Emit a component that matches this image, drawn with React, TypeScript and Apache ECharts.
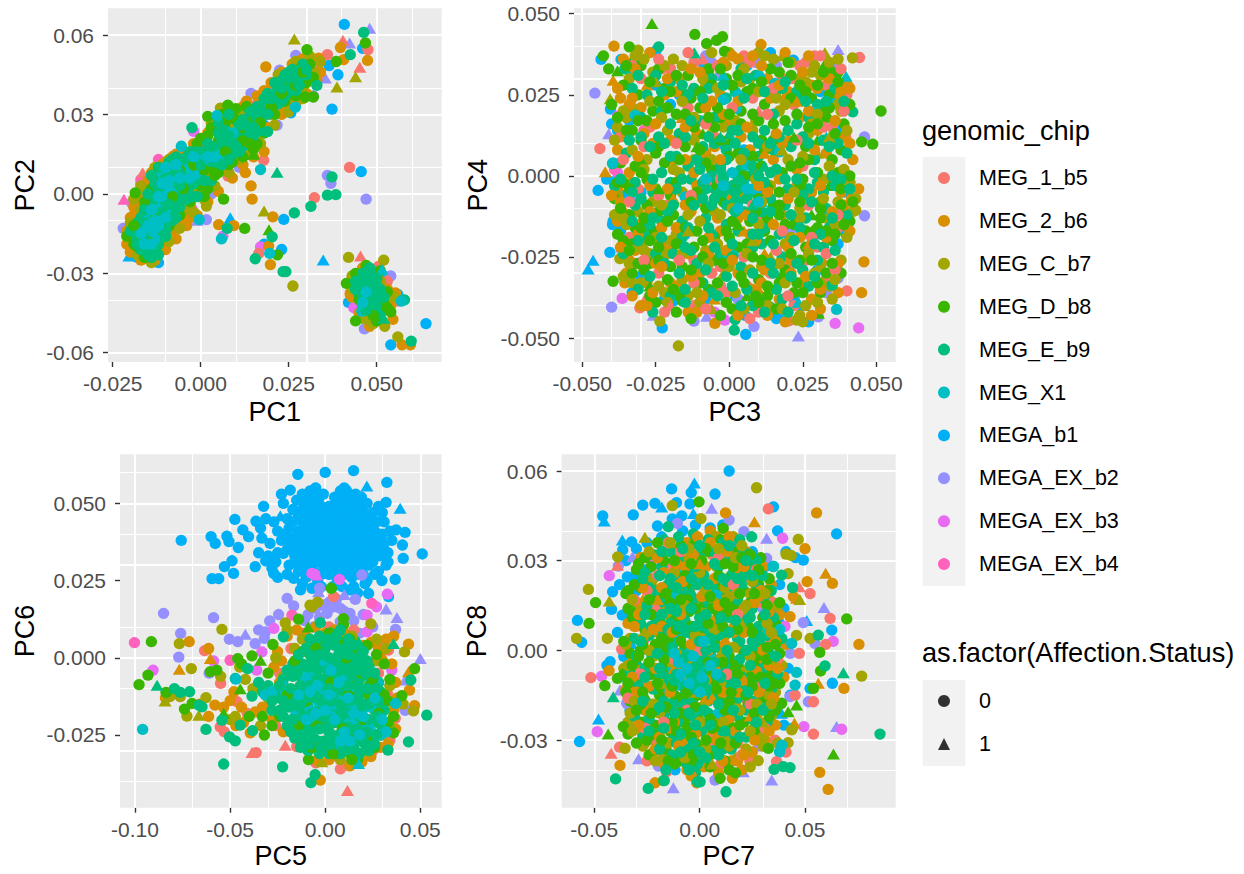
import React, { useEffect, useRef } from "react";
import * as echarts from "echarts";

const FONT = "Liberation Sans";
const CHIPS = ["MEG_1_b5", "MEG_2_b6", "MEG_C_b7", "MEG_D_b8", "MEG_E_b9", "MEG_X1", "MEGA_b1", "MEGA_EX_b2", "MEGA_EX_b3", "MEGA_EX_b4"];
const COLORS = ["#F8766D", "#D89000", "#A3A500", "#39B600", "#00BF7D", "#00BFC4", "#00B0F6", "#9590FF", "#E76BF3", "#FF62BC"];
const STATUS = ["0", "1"];

// All points are [x*1000, y*1000, triangle?].
// PC1 / PC2
const p1b1 = [[40.8,64],[46,55],[36.5,48.5],[39,45],[37.3,32],[25.6,30.6],[45.6,8.4],[23.6,-9.6],[23,-21],[18,-19],[64,-49],[54,-57],[42,-41],[34.8,-25,1],[8.4,-9,1],[-12,-26],[-20.4,-23.5,1],[-13.4,-23,1],[-10.7,-18.7],[-8.6,-14.7],[18,26],[-18,-24],[-15,-24.5],[-5,-10],[2,9],[8,8],[30,44],[-20,-18],[52,-31],[45,-32],[56,-38]];
const p1b2 = [[48,62.6,1],[27,52.3],[42.3,57,1],[22.4,46.7],[14.3,38],[21.7,26],[35.4,43.8,1],[36,7],[37,4],[47,-2],[1.6,-9.7],[-1,-10,1],[54,-31],[46.5,-51],[-22,-13],[-19.6,-3.4],[-6.7,15],[14,25.5],[11,10],[-15,-24],[32,37],[-3,-3],[3,0]];
const p1b3 = [[6.3,-16],[17,-20],[-2.5,-5.7],[-2,23.6],[12.7,34],[43.5,-43],[-17,4]];
const p1b4 = [[-21.8,-2,1],[-17,5.4],[-12,13],[-15,-20]];
const p1b5 = [[47.5,54.5],[40.4,58,1],[45.2,47.8,1],[36,52.6],[34,46],[17.9,12.7],[7.8,6.7],[42.3,10],[32.3,-1.4],[-4.2,-11],[16.5,-22.5],[45.4,-23.5,1],[50.6,-27.3],[54.8,-40.5,1],[-16.5,8,1],[-8.6,14.2,1],[4.6,26,1],[42.5,-37.4],[-18,-10],[-16,-2],[-14,3],[-9,9],[-4,13],[1,17],[6,22],[11,28],[16,34],[21,40],[26,46],[30,50],[-19,-17],[-11,-17],[-7,-7],[-2,2],[3,8],[28,50],[33,48],[47,-30],[50,-46],[53,-33]];
const p1b6 = [[18.5,48],[47.4,50.4],[39.7,55.3],[40.6,50.7],[33.5,51.3],[12.7,8],[14.3,3],[14.6,-2],[20.5,-8.7],[5.1,-11.6],[9.4,-12],[19.3,-19.7],[19.8,-26.7],[55.3,-37.4],[57.2,-57],[59.6,-57],[42.5,-38],[54.6,-47.4],[7.5,9.2,1],[-20,-13],[-19,-8],[-18,-4],[-17,0],[-15,5],[-13,9],[-10,12],[-7,15],[-20,-17],[-19,-21],[-17,-24],[-14,-22],[-11,-18],[-8,-14],[-5,-9],[-3,-5],[0,0],[3,4],[7,10],[10,15],[13,18],[16,21],[4,25],[8,29],[12,33],[16,37],[20,42],[23,46],[26,49],[29,51],[31,48],[33,43],[28,38],[24,33],[20,30],[15,27],[44,-32],[43,-39],[45,-45],[48,-50],[51,-47],[54,-42],[53,-36],[50,-30],[46,-28]];
const p1b7 = [[26.6,58.5,1],[44,44.2,1],[38.7,40.4,1],[34,50],[26.2,-34.8],[42,-24],[52,-25],[56,-54],[52.3,-50],[18,-6.5,1],[1.6,-4.6],[5.6,32.4],[17,24.5],[8.4,11.7],[11.3,14.2,1],[43,-31],[48.2,-48],[-19,-11],[-17,-6],[-15,1],[-11,7],[-8,11],[-16,-21],[-12,-20],[-8,-12],[-4,-6],[-1,0],[2,6],[5,13],[9,19],[13,24],[17,28],[21,33],[25,37],[29,40],[32,46],[22,45],[27,50],[31,52],[12,30],[6,32],[8,26],[45,-30],[43,-36],[46,-47],[49,-49],[52,-44],[55,-39],[51,-33],[47,-35]];
const p1b8 = [[30.2,54.5],[46.8,57],[38.5,50],[2,29.3],[7.7,33.5],[10,32.2],[6.5,-2],[12.5,-13],[1,-1],[19.4,-13.5,1],[21.8,-23],[44,-48],[15,15,1],[-18.6,0.4],[32,36.6],[29.7,36.6],[54,-44.6],[41.4,-33.8],[-20,-15],[-18,-20],[-16,-24],[-14,-20],[-17,-12],[-15,-7],[-13,-1],[-11,4],[-9,9],[-6,12],[-3,15],[-12,-15],[-9,-12],[-6,-8],[-3,-3],[0,3],[3,10],[6,14],[9,20],[11,24],[13,22],[15,17],[16,19],[14,28],[18,32],[10,28],[6,30],[3,25],[0,21],[22,36],[24,40],[27,44],[30,42],[32,44],[26,38],[28,47],[31,49],[25,42],[44,-30],[46,-37],[48,-43],[50,-48],[52,-41],[50,-35],[51,-29],[47,-27],[53,-37]];
const p1b9 = [[46.3,61],[42.5,52.6],[-2.5,25],[19,23.5],[21.7,8.2,1],[37.3,6.4],[36,-0.5],[38.4,-0.3],[31.3,-4.7],[26.6,-7.2],[7.5,-13],[20.3,-16.2],[15.5,-24.5],[23.4,-29.4],[24.2,-29.4],[57.9,-40],[59.8,-55.6],[-19,-14],[-18,-17],[-17,-21],[-15,-23],[-13,-21],[-12,-17],[-15,-14],[-17,-9],[-15,-4],[-13,1],[-11,-3],[-9,-7],[-10,-12],[-7,-3],[-10,3],[-12,6],[-9,7],[-7,10],[-5,5],[-3,9],[-4,14],[-1,13],[1,16],[-2,7],[2,12],[5,17],[4,12],[7,18],[9,15],[10,22],[7,24],[5,27],[12,18],[13,21],[11,26],[8,30],[15,22],[16,33],[19,34],[22,34],[21,38],[24,37],[26,41],[23,43],[25,46],[28,44],[29,49],[27,39],[30,45],[33,41],[-14,-11],[-11,-9],[-7,-1],[-8,4],[-5,0],[-3,3],[0,9],[-14,-17],[-11,-13],[44,-33],[46,-30],[48,-33],[50,-38],[47,-40],[45,-38],[49,-44],[52,-39],[48,-28],[51,-45],[46,-43],[52,-47,1]];
const p1x1 = [[5.9,-17],[-0.4,-9.7],[17,9.2],[26.9,32.8],[19.6,-22.5],[19.3,35],[51.5,-28.6,1],[46.3,-33.6,1],[45.8,-44.3],[50.4,-35.5],[57,-40.5],[-5.5,18],[4.6,29.6],[-16,-13],[-14,-8],[-13,-13],[-12,-5,1],[-14,-15,1],[-11,-1],[-10,2],[-11,8],[-13,-17],[-15,-10],[-10,-6],[-9,-2],[-7,7],[-4,9],[-1,10],[-1,7],[-5,11],[1,13],[6,15],[-8,1],[9,23],[-12,-9],[-13,-6]];
const p1o3 = [[-21,-14],[-20,-9],[-19,-5],[-18,0],[-16,3],[-14,8],[-11,11],[-8,14],[-5,16],[-21,-19],[-20,-22],[-17,-25],[-13,-25],[-10,-21],[-7,-17],[-4,-12],[-1,-8],[2,-3],[5,1],[9,6],[12,11],[15,14],[18,16],[-2,19],[2,23],[5,29],[9,31],[13,35],[18,39],[22,43],[19,25],[23,30],[27,34],[30,38],[34,46],[-16,-14],[-7,-11],[-3,-9]];
const p1c3 = [[-20,-11],[-19,-2],[-17,3],[-13,10],[-9,13],[-18,-23],[-14,-26],[-9,-18],[-6,-13],[-2,-7],[1,-2],[4,3],[8,8],[11,13],[14,15],[17,19],[21,26],[25,31],[29,36],[3,27],[7,27],[11,31],[15,32],[19,36],[24,44],[28,49]];
const p1d3 = [[-21,-16],[-19,-19],[-15,-21],[-16,-8],[-14,-3],[-12,-7],[-9,0],[-7,5],[-4,11],[-1,4],[2,2],[5,8],[9,12],[12,14],[15,24],[18,23],[21,30],[24,35],[5,20],[7,27],[2,22],[-1,19],[9,30],[13,33],[27,37],[31,44]];
const p1e3 = [[-20,-14],[-18,-11],[-16,-20],[-14,-13],[-12,-19],[-10,-14],[-8,-6],[-6,-1],[-4,2],[-2,-1],[0,6],[3,5],[-13,-3],[-11,1],[-9,12],[-7,14],[-3,12],[0,14],[3,18],[5,23],[8,19],[11,21],[14,24],[17,24],[16,29],[19,38],[22,40],[25,39],[28,46],[23,35]];
const p1d2 = [[-19,-12],[-17,-16],[-15,-18],[-13,-9],[-16,-3],[-14,2],[-8,-1],[-5,2],[-6,9],[-2,11],[1,9],[4,7],[7,16],[8,11],[12,20],[14,19],[17,27],[20,33],[23,38],[27,41],[29,46],[45,-40],[49,-46],[53,-43]];
const p1e2 = [[-18,-19],[-16,-17],[-14,-24],[-12,-23],[-16,-11],[-14,-6],[-12,-11],[-10,-16],[-8,-10],[-16,-6],[-15,0],[-13,4],[-11,-7],[-9,-4],[-7,-9],[-6,-5],[-12,2],[-10,6],[-8,8],[-6,3],[-4,-2],[-4,6],[-2,4],[-1,-1],[1,5],[-14,7],[-12,10],[-10,10],[-8,13],[-6,8],[-5,13],[-3,16],[-1,16],[2,19],[0,11],[3,15],[6,11],[8,13],[11,16],[6,20],[8,22],[10,18],[13,26],[15,25],[17,31],[12,28],[14,31],[19,30],[20,36],[18,36],[23,40],[21,42],[26,44],[28,41],[26,47],[30,47],[24,45],[47,-33],[49,-35],[46,-39],[48,-38],[49,-41],[44,-36],[47,-44],[50,-42],[51,-36],[46,-34],[48,-30],[50,-32]];
const p1x2 = [[-17,-15],[-15,-12],[-14,-6],[-12,-1],[-10,-9],[-13,-10],[-12,-12],[-9,5],[-6,6],[-3,6],[-10,10],[-11,4],[-14,-19],[-7,11],[-16,-19],[-2,14],[2,14],[4,14],[47,-37],[46,-41]];

// PC3 / PC4
const p2b1 = [[-43.6,35.9],[-36.8,35.9],[-25,38.5],[-40.4,20.6],[-44.6,-4.5],[-41.7,-1],[-39.5,-14],[-39.7,-15],[-40.6,-23.6],[-46.3,-26,1],[-48,-28.7,1],[-22.8,-46.9],[5.6,-48.9],[21.8,35.7],[39.7,-17.8],[4.8,-41],[5.4,-43],[17.2,-43],[-19,-38.6],[25.2,-40,1],[27,-45],[-33,33],[-25,28],[-17,25],[-9,35],[6,34],[14,38],[-38,-1],[-30,-5],[-37,-17],[-30,-31],[-22,-38],[-13,-43],[-8,-38],[2,-37],[12,-38],[22,-38],[30,-29],[37,-21],[39,-5],[38,14],[31,26],[-20,22],[-10,4],[5,8],[-15,-18],[10,-5],[20,-18],[-3,10],[-34,17],[-36,-6],[-40,16],[-38,14],[-33,-36],[15,-42],[16,-44]];
const p2b2 = [[-45.7,25.5],[-40,-40.5],[-36.6,-21.9,1],[46,-12.3],[46,12],[37,39,1],[23.5,-49.4,1],[8.4,-46.4],[-12,-44.8],[-7.7,-43.3,1],[-25.9,-43,1],[36,34.8],[3,-38],[30.3,-43.5],[37,-31.5],[23,-16,1],[-29,-20],[-6,35],[-3,31],[9,35],[16,34],[25,-18],[-33,-8],[-41,13,1],[-36,-1,1],[-8,37],[33,-36],[20,-17]];
const p2b3 = [[44,-46.9],[36,-45.5],[-36.4,-37.8],[-38,18.4],[-1.5,-44.5],[-38,1],[-5,-42]];
const p2b4 = [[-39,2],[-29,14],[16,12]];
const p2b5 = [[44.3,36.5],[39.6,12],[-44,8.4],[40,-35.5],[20.3,-44.7],[-30.4,-40.7],[-30,30],[-20,33],[-12,35],[5,37],[18,30],[26,35],[33,28],[40,25],[-37,12],[-27,15],[-14,21],[-5,12],[8,24],[22,22],[35,15],[-31,-4],[-21,-9],[-7,-2],[10,-12],[25,3],[37,-16],[-32,-27],[-24,-30],[-12,-26],[-3,-28],[6,-34],[14,-30],[26,-26],[33,-32],[-22,-42],[-12,-40],[-1,-36],[10,-42],[20,-28],[30,-22],[-34,-19],[-16,-33,1],[-9,36,1],[2,-22,1],[-28,-37,1],[29,37],[22,-40],[35,31],[-3,-34],[21,30,1],[-28,-31,1],[39,28],[-23,33],[4,-29]];
const p2b6 = [[-39.2,40],[10.8,40.5],[45.8,-26.5],[45,-36],[41.6,-7],[-4.9,-45.5],[-30,-40],[-35.5,-33],[40.5,27.6],[-42.2,1.3,1],[-39.5,29.5,1],[-37,24],[-30,21],[-22,25],[-17,30],[-11,13],[-3,25],[13,30],[20,26],[28,28],[36,24],[-38,8],[-33,-2],[-26,10],[-19,5],[-8,7],[4,12],[15,5],[24,18],[33,7],[41,-2],[-38,-14],[-30,-15],[-22,-20],[-13,-11],[-3,-17],[7,-18],[18,-12],[28,-5],[38,-5],[44,-4],[-34,-26],[-20,-22,1],[-28,-33],[-10,-30],[-5,-38,1],[3,-30],[12,-24,1],[24,-33],[32,-26,1],[37,-36],[-18,-34],[-7,32],[20,12,1],[22,-3,1],[-28,28,1],[-16,18,1],[9,2,1],[-25,-12],[3,36],[39,12],[-36,-10,1],[10,-35,1],[-14,-42],[17,-38],[28,-38],[0,16],[30,14],[-10,-8],[-35,-30],[-22,-23],[19,25,1],[8,-38,1],[-38,-4],[-35,12]];
const p2b7 = [[-17.3,-52.4],[32.5,38,1],[41.9,36.4],[-40.5,23.8,1],[-31,38.8],[-23.6,-44.8],[43,-10.6],[22.9,-44.5],[25,-45],[-37.2,-25.5],[-34,30],[-26,32],[-16,34],[-8,28],[0,38],[7,30],[15,36],[24,30],[31,31],[38,20],[-35,18],[-28,5],[-21,14],[-12,5],[-2,15],[9,17],[17,20],[27,13],[35,-1],[42,-11],[-31,-11],[-25,-4],[-16,-5],[-5,-11],[5,-6],[14,-3],[24,-10],[33,-13],[-27,-24],[-18,-18],[-8,-23],[2,-36],[11,-28],[19,-21],[29,-30],[38,-26],[-33,-33],[-22,-36],[-14,-37],[-6,-41,1],[14,-25,1],[24,-43],[-38,-6],[3,1],[-13,27,1],[18,37,1],[30,7,1],[-30,-20,1],[10,38],[37,-8],[-2,-30,1],[-33,21],[-30,-33],[31,-33],[34,-34],[-36,-31],[-12,-33,1],[-21,-24],[16,-27,1],[-5,-35,1]];
const p2b8 = [[51.6,20],[48.8,9.8],[45,10.5],[-11.7,43.6],[-2.3,42.9],[-4.3,41.8],[-7.7,40.8],[-34,39.8],[-42.8,37],[-39.5,-32.5],[-26.3,47,1],[-38,32.4,1],[-1.6,38.4],[30.3,-42.4,1],[-15.9,-38.6],[32.5,34.6,1],[-36,28],[-31,25],[-24,33],[-22,27],[-14,31],[-7,33],[-1,30],[6,26],[14,33],[21,31],[28,24],[34,25],[39,16],[-37,4],[-33,14],[-26,20],[-18,19],[-10,21],[-3,18],[4,20],[12,22],[19,17],[26,9],[33,18],[38,8],[-39,-7],[-34,-12],[-28,-1],[-22,4],[-15,9],[-6,2],[3,7],[11,11],[18,1],[25,-1],[31,-8],[37,1],[41,-14],[-36,-20],[-26,-17],[-19,-12],[-11,-17],[-2,-8],[7,-14],[15,-9],[22,-15],[29,-17],[35,-20],[-33,-30],[-27,-27],[-20,-28],[-12,-22],[-5,-26],[3,-22],[10,-32],[17,-33],[24,-26],[31,-36],[-25,-39],[-17,-37],[-7,-35],[1,-41],[13,-37],[22,-36],[-30,5,1],[-9,13,1],[0,11,1],[13,-2,1],[28,-12,1],[-17,-20,1],[6,-37,1],[18,-30,1],[34,-3,1],[-32,-16],[-24,-11],[-15,25],[-33,-21],[-30,11],[-5,-19],[12,-17],[30,11,1],[37,10,1],[39,-12],[-27,-34,1],[32,20],[35,33,1]];
const p2b9 = [[-24,39.8],[1.7,-47.6],[-32.3,35.4],[-35.5,33],[-39.7,3.8],[42,19.7],[-11.9,38,1],[35,-33.7],[13.8,-40.4],[2,-44.3],[-26,-42],[-33,27],[-28,25],[-20,29],[-12,27],[-6,30],[2,26],[9,31],[16,26],[23,26],[30,22],[36,27],[-35,7],[-30,18],[-24,12],[-17,13],[-9,9],[-1,8],[6,4],[12,14],[21,9],[29,5],[37,10],[-39,-3],[-32,-9],[-26,-5],[-20,-2],[-13,-1],[-5,-4],[1,-3],[7,0],[14,-7],[20,-4],[27,-4],[33,-10],[40,-12],[-36,-24],[-29,-18],[-23,-14],[-16,-14],[-8,-13],[-1,-15],[5,-11],[12,-16],[19,-9],[26,-13],[34,-16],[-31,-35],[-25,-24],[-19,-24],[-11,-27],[-3,-24],[4,-28],[11,-21],[18,-25],[25,-29],[32,-22],[-20,-37],[-9,-33],[-1,-31],[8,-40],[16,-35],[27,-34],[2,10],[0,-6],[10,6],[-14,3],[-1,24],[4,33],[-10,17],[7,-5,1],[0,13,1],[-4,-2],[3,-8],[-8,-4],[-18,6],[15,8],[23,16],[30,-2],[36,-3],[-3,2],[4,2],[-16,-19],[-5,18],[15,19],[27,18],[-23,20],[-32,-2]];
const p2x1 = [[36.5,-41.2],[39.7,30.7,1],[33,12,1],[-0.3,-26],[1.4,-24.5],[8,-4],[4.8,-1.9],[-2,23.5],[2.5,20.8],[15.5,28.5],[28.3,19.7],[35.4,22.3],[-15,-6.5],[-32,18.7],[5.9,3.3],[17.2,7.4],[10.4,32,1],[-2,31,1],[11,-8,1],[-39.5,4],[3,25],[23.5,-39,1]];
const p2o3 = [[-36,36],[-27,38],[-13,33],[1,37],[19,38],[27,37],[-33,24],[-18,26],[-8,21],[3,23],[14,24],[30,27],[38,26],[-29,13],[-20,11],[-5,9],[7,8],[18,10],[29,8],[41,10],[-37,-8],[-27,-3],[-11,-3],[1,-7],[13,-5],[26,-7],[39,-9],[-31,-18],[-18,-16],[-4,-13],[9,-20],[20,-22],[33,-19],[41,-17],[-25,-27],[-14,-24],[-1,-23],[12,-29],[26,-31],[37,-27],[-28,-40],[-11,-42],[3,-43],[19,-45],[31,-41],[-33,-37],[-2,19],[11,34],[23,2],[-23,-16],[34,21],[-34,1],[17,-1],[6,-12],[-15,5],[-7,-24],[21,-26],[-20,-33],[8,-35]];
const p2c3 = [[-32,37],[-22,34],[-9,30],[4,29],[13,26],[26,29],[34,35],[-38,15],[-23,18],[-12,11],[2,17],[16,24],[28,16],[37,22],[-33,8],[-19,2],[-6,5],[9,-1],[20,5],[32,-1],[39,2],[-36,-13],[-26,-8],[-14,-12],[-3,-12],[10,-15],[24,-13],[36,-15],[-29,-23],[-16,-24],[-4,-21],[7,-29],[21,-19],[31,-28],[-21,-39],[-10,-39],[0,-28],[13,-40],[26,-40],[35,-38],[-34,-27],[-12,18],[8,14],[-25,-19],[19,-33],[-1,34],[41,-2],[-39,-12],[28,32],[-16,-32]];
const p2d3 = [[-41,33],[-30,34],[-20,26],[-13,24],[-6,28],[1,28],[8,27],[17,32],[24,28],[30,28],[37,32],[-40,22],[-35,14],[-28,17],[-21,21],[-12,15],[-4,21],[4,16],[10,17],[21,24],[27,15],[34,21],[41,22],[-38,-2],[-32,3],[-24,9],[-16,11],[-8,4],[0,6],[8,6],[15,11],[21,3],[27,5],[35,5],[41,0],[-34,-4],[-28,-9],[-20,-6],[-11,-5],[-4,-3],[3,-4],[10,-7],[17,-9],[24,-3],[31,-10],[38,-9],[-38,-18],[-30,-16],[-24,-22],[-15,-16],[-8,-10],[-1,-17],[6,-21],[13,-13],[19,-15],[26,-17],[33,-17],[39,-15],[-31,-27],[-24,-26],[-16,-28],[-9,-25],[-2,-27],[4,-31],[11,-26],[19,-29],[26,-22],[33,-30],[38,-30],[-27,-37],[-19,-35],[-10,-33],[-1,-39],[9,-37],[16,-41],[25,-36],[-13,-44],[12,8],[-5,15],[-18,-2],[30,-16]];
const p2e3 = [[-25,31],[-14,25],[-7,27],[5,24],[18,27],[25,24],[-30,12],[-22,10],[-15,12],[-5,10],[3,14],[10,10],[17,12],[25,12],[32,11],[-33,-5],[-26,-1],[-18,-4],[-9,-2],[-3,-5],[6,-7],[12,-2],[19,-1],[25,-6],[32,-5],[38,-1],[-27,-15],[-21,-11],[-14,-16],[-6,-18],[3,-17],[10,-18],[17,-18],[24,-16],[31,-18],[-22,-27],[-13,-23],[-5,-22],[1,-25],[8,-22],[15,-30],[23,-27],[30,-26],[-15,-35],[-6,-36],[6,-35],[18,-38],[-3,3],[-11,5],[5,7],[11,-11],[-1,-9],[-6,0],[8,3],[-1,5],[2,-8],[-9,-7],[14,1]];
const p2s2 = [[-33,34],[-24,36],[-14,38],[-4,34],[7,35],[15,27],[24,34],[31,37],[38,33],[-36,5],[-29,9],[-18,10],[-8,16],[1,21],[13,19],[23,11],[32,15],[39,20],[-34,-8],[-24,-6],[-13,-6],[-3,-1],[8,-9],[18,-17],[27,-9],[37,-12],[-29,-26],[-17,-26],[-6,-30],[5,-25],[16,-23],[28,-19],[36,-29],[-20,-40,1],[-8,-41],[7,-44],[20,-37],[33,-24],[10,20,1],[-12,-33]];
const p2o2 = [[-38,27],[-32,33],[-21,30],[-10,32],[-2,35],[8,37],[17,28],[25,32],[34,30],[41,27],[-34,22],[-25,16],[-15,15],[-6,23],[6,15],[16,13],[27,20],[36,17],[-40,-6],[-31,6],[-21,-4],[-12,1],[-3,5],[10,-3],[20,-7],[31,-3],[42,5],[-37,-22],[-27,-11],[-15,-9],[-7,-19],[3,-13],[15,-15],[24,-19],[35,-11],[-32,-23],[-23,-28],[-13,-31],[1,-26],[11,-33],[21,-30],[31,-35],[-26,-36],[-9,-37],[13,-43],[28,-43],[-7,13,1],[12,7,1],[-19,-7,1],[27,-21,1],[5,-17,1],[23,23,1]];
const p2c2 = [[-29,36],[-19,36],[-6,38],[5,33],[12,37],[21,35],[29,34],[37,36],[-36,20],[-27,23],[-16,23],[-4,27],[10,26],[19,22],[30,19],[40,14],[-39,11],[-29,2],[-17,1],[-8,-1],[4,5],[13,9],[25,6],[34,3],[43,-7],[-35,-15],[-23,-9],[-10,-14],[1,-10],[11,-8],[22,-5],[32,-7],[40,-19],[-31,-22],[-20,-20],[-7,-27],[6,-24],[17,-27],[27,-24],[36,-32],[-24,-34],[-11,-36],[5,-41],[18,-41],[30,-39],[-25,29,1],[8,-20,1],[18,8,1],[-14,-17,1],[34,12,1]];
const p2d2 = [[-35,34],[-27,29],[-18,31],[-10,26],[-3,33],[3,31],[11,29],[20,35],[26,26],[32,32],[37,29],[-38,18],[-31,17],[-24,23],[-15,19],[-7,18],[0,19],[8,19],[15,16],[23,19],[30,16],[36,13],[-36,-2],[-30,1],[-25,7],[-17,5],[-10,8],[-3,11],[5,0],[11,3],[17,-5],[24,4],[30,1],[38,-4],[42,-8],[-37,-10],[-29,-13],[-21,-14],[-13,-8],[-5,-7],[1,-14],[9,-11],[17,-12],[24,-8],[31,-13],[36,-18],[-34,-23],[-27,-20],[-18,-21],[-9,-20],[0,-19],[8,-25],[14,-20],[21,-24],[28,-26],[35,-27],[-29,-29],[-21,-32],[-13,-29],[-4,-33],[5,-33],[13,-34],[23,-33],[30,-33],[-18,-42],[-3,-43],[10,-39],[-11,9,1],[3,-15,1],[22,12,1],[-24,-4,1]];
const p2e2 = [[-31,31],[-23,26],[-16,28],[-9,24],[-2,28],[6,30],[12,26],[19,29],[26,23],[33,23],[39,23],[-34,11],[-27,9],[-20,16],[-13,17],[-7,12],[1,14],[8,12],[14,10],[20,14],[27,10],[34,9],[40,7],[-37,-1],[-30,-7],[-23,1],[-16,-1],[-10,2],[-2,-1],[4,-2],[10,0],[16,2],[23,-1],[29,1],[35,0],[41,-4],[-33,-14],[-26,-13],[-19,-9],[-12,-9],[-6,-9],[2,-11],[8,-13],[14,-11],[21,-12],[28,-8],[35,-13],[-31,-20],[-23,-19],[-15,-22],[-7,-16],[1,-21],[8,-18],[15,-21],[22,-20],[29,-21],[36,-23],[-27,-31],[-17,-30],[-8,-29],[1,-34],[8,-30],[14,-27],[21,-31],[29,-31],[-15,-39],[-4,-37],[4,-40],[12,-42],[20,-42],[-2,0],[2,-5],[-5,-7],[5,-3],[8,-9,1],[-3,12,1],[0,-4,1],[12,3,1],[-20,6],[3,-1]];
const p2x2 = [[-2,-3],[1,1],[6,-4],[3,-10],[10,-8],[-8,-1]];

// PC5 / PC6
const p3b1 = [[-75.7,38],[-60,39.2],[-57.8,37],[-51.7,39.4],[-47.5,44.8],[-45.7,35.7],[-50.6,37.6],[-43.3,41.4],[-40.3,39.2],[-36.4,44.2],[-31.2,45],[-32.4,49],[-33.3,38.7],[-36.8,29.5],[-31.3,31.4],[-59.5,25.6],[-56,25.6],[-53,29.5],[-49,31.4],[-48.2,27.3],[-14.4,59.4],[0,60],[14.9,60.6],[32.4,56.8],[32,50.3],[21.9,55.6,1],[39.4,48.4,1],[51,33.6],[42,40.6],[37.3,41.4],[40.6,36.5],[41,32.2],[36.8,25.4],[29.8,25],[33.3,19.8],[22.8,20.8],[-18.4,54.3],[-23,53],[-22,50],[-23.6,46,1],[-27.1,27.3],[-22,33.8],[-16.6,25.7],[-13,22],[-7,22.5],[13,22],[17,21],[-5,55],[-8,54],[-12,53],[-3,52],[8,54],[10,55],[13,54,1],[16,53],[19,52],[-15,51],[-17,48],[-10,50],[-6,50],[-2,49],[2,49],[6,50],[10,51],[14,50],[18,49],[22,50],[25,47],[28,49],[-20,45],[-14,46],[-9,46],[-5,47],[-1,46],[3,46],[7,47],[11,46],[15,47],[19,45],[23,46],[27,44],[31,44],[-25,41],[-19,42],[-14,41],[-10,43],[-6,42],[-2,43],[2,42],[6,43],[10,42],[14,43],[18,41],[22,42],[26,41],[30,40],[34,41],[-29,37],[-23,38],[-18,37],[-13,38],[-9,38],[-5,39],[-1,38],[3,38],[7,39],[11,38],[15,39],[19,37],[23,38],[27,36],[31,37],[35,38],[-30,33],[-25,34],[-16,33],[-11,34],[-7,34],[-3,35],[1,34],[5,35],[9,34],[13,34],[17,35],[21,33],[25,34],[29,33],[33,34],[-28,29],[-19,30],[-14,30],[-9,30],[-5,31],[-1,30],[3,30],[7,31],[11,30],[15,30],[19,29],[23,30],[28,28],[32,30],[-25,26],[-20,27],[-14,28],[-10,26],[-4,25],[2,27],[6,26],[10,27],[14,26],[18,27],[22,25],[26,27],[-12,24],[-2,23],[4,23],[9,23],[15,23],[21,24],[-35,34],[-27,44]];
const p3a1 = [[-7,52],[-1,53],[5,52],[11,52],[17,51],[-12,48],[-8,48],[-4,48],[0,47],[4,48],[9,48],[12,48],[16,46],[20,47],[-17,44],[-12,44],[-7,44],[-3,45],[1,44],[5,45],[9,44],[13,45],[17,44],[21,44],[25,44],[-21,40],[-16,39],[-12,40],[-8,40],[-4,41],[0,40],[4,41],[8,41],[12,40],[16,41],[20,40],[24,40],[28,39],[-20,35],[-15,36],[-11,36],[-7,36],[-3,37],[1,36],[5,37],[9,36],[13,36],[17,37],[21,36],[25,36],[29,36],[-16,31],[-12,32],[-7,32],[-3,32],[1,32],[5,33],[9,32],[13,32],[17,32],[21,31],[25,31],[-10,28],[-6,28],[-2,27],[4,28],[8,29],[12,28],[16,28],[20,27],[-26,31],[-34,42],[30,47],[33,31]];
const p3b2 = [[-85,14.4],[-76,7.9],[-77,0.2],[-58.7,13],[-50.4,6],[-46,5.2],[-42,7.6,1],[-36.8,4.6],[-35,9],[-31.5,8.4],[-32,6.3],[-29.2,11.9],[-24.5,14],[-20,19.2],[-16.6,16.8],[-3,22.5],[-3.5,21.4,1],[10,20.5,1],[15.8,18.9],[19.3,26.8],[32,15.8,1],[37.7,13,1],[37,9.2],[50,-0.2,1],[42,-7.2,1],[42,-17],[-61,-5],[1,14.4],[4.4,16.5],[7.9,11.7],[13,14.4],[-3,13],[-6,10],[18,8],[31,5],[-1,17],[6,19],[10,15],[-9,14],[-11,12],[20,14],[25,10],[2,18],[8,16],[-5,16],[15,12]];
const p3b3 = [[-90.5,-4],[-58.7,-1],[-7,27.3],[7.5,25.4],[32.7,20.6],[-27,9.5],[-33.3,1.9],[-36,-4],[35,-4],[22,13.8],[27,16.5],[22,8.4],[-4.4,26.8,1],[-5.5,27]];
const p3b4 = [[-100.3,4.9],[-50,-0.8],[-17.5,13.8],[24.5,17.6]];
const p3b5 = [[11.7,-43,1],[-21,-28.3,1],[-38.5,-30.7,1],[-36.3,-30.7],[4.4,19.8],[-63.4,2.3],[-55.2,-22.4],[-55,-8.3],[-41,-18],[-46.4,-14.2],[12.3,-34.8],[36.8,-19.6],[34,-26.7],[33.3,2.5],[-15,-28.8],[-53,-24],[-2,12,1],[-12,8],[-24,-5],[-18,3],[2,10],[28,-5],[33,-12],[15,9],[-30,-12],[-26,-22],[25,-30],[-5,-34],[8,-36]];
const p3b6 = [[-71.5,5.2],[-61.3,3],[-76.7,-3.7,1],[-60.4,-0.2,1],[-2.6,-39.6],[43.8,4.4],[44.3,-10.5],[47,-15.5],[19.3,-33.7],[-39.4,-24.3],[-50,-13.9],[-58,-15.3],[-53.4,-16],[-36.8,-17.5],[-61.3,-19],[43.8,-4.5,1],[-3.5,-30.4],[-25,2],[-27,-3],[-24,-8],[-30,-16],[-26,-18],[-23,-1],[-20,7],[-15,9],[-10,7],[-5,10],[0,8],[5,9],[10,8],[15,6],[20,4],[24,5],[28,3],[32,6],[36,7],[30,1,1],[35,-2],[37,-8],[38,-13],[36,-17],[37,-23],[33,-28],[29,-29],[24,-32],[18,-32],[13,-35],[7,-32],[2,-33],[-4,-33],[-9,-30],[-13,-27],[-17,-22],[-22,-24],[-28,-20],[-33,-16],[-44,-16],[-47,-22],[-48,-11],[-43,-21],[-66,-15],[-84,-13],[-82,-12],[-3,-33,1],[26,0,1]];
const p3b7 = [[-54.3,9.2],[-76.7,4.6],[-70.4,-3.5],[41.7,1.9],[24,11],[-21,11.3],[-7,16.5],[-62.7,-12.9],[46.4,-17.2],[41,-15],[-72.7,-18.9],[-84.2,-14,1],[-66.5,-18.6,1],[-47.3,-19],[7.9,-33],[-1.7,-33.7,1],[22.8,-30.5],[-81.7,-12.6],[-76.2,-12.6],[-20,9],[-8,17],[-4,18],[-16,3],[-22,-6],[-30,-13],[-26,0],[-12,6],[8,8],[14,7],[20,-2],[27,6],[32,3],[34,-9],[30,-25],[15,-32],[3,-30],[-5,-29],[-45,-3],[-42,-7],[-55,-6],[-50,-20],[-38,-10],[-34,-22],[19,-2,1],[27,-1,1],[1,-10],[34,-22]];
const p3b8 = [[-91.4,5.2],[-93.2,-5.6],[-97.9,-8.7],[-83.7,-11.2],[-74,-16.6],[-70,-14.8],[-57,-4],[-60.4,-4.5],[-46,-0.3],[-38.5,0.6],[-34,-0.8,1],[-27.5,4.3],[3.2,22.5],[9.6,12.7],[9.6,10.7],[47,-3.5],[40.3,-12.3],[35.9,-24.3],[-8.8,-33],[-32,-25],[-44.7,-10,1],[-53.4,-18,1],[-9,10,1],[-14,12.5],[-2,5],[3,7],[8,5],[13,6],[17,2],[22,4],[27,1],[31,-2],[34,-7],[-22,-9],[-26,-13],[-18,-4],[-12,2],[-7,-1],[0,0],[6,-1],[11,2],[16,-3],[22,-2],[28,-8],[33,-14],[36,-19],[-24,-19],[-19,-14],[-13,-9],[-7,-5],[0,-7],[5,-4],[11,-7],[17,-8],[23,-9],[29,-15],[33,-21],[-18,-24],[-12,-18],[-8,-22],[-2,-14],[4,-16],[10,-13],[16,-15],[22,-15],[28,-21],[-10,-29],[-4,-27],[2,-24],[8,-21],[14,-23],[20,-26],[26,-29],[5,-31],[13,-31],[17,-33],[-28,-22],[-30,-5],[-33,-19],[-40,-19],[-44,-2]];
const p3b9 = [[-88.4,-8.9,1],[-79.3,-10],[-76.2,-11.2],[-71.3,-11],[-66.5,-15.3],[-64.8,-15.9],[-53.4,-34.4],[-22.4,-35.3],[-5.3,-37.8],[-7.5,-40.4],[53.4,-18.6],[43.8,-27.2],[-62.7,-23.2],[-50.3,-25.6],[-47.3,-26.9],[-44.7,-21.8],[-38.2,-23.6],[-54.3,-20.2],[-47.3,-6.7],[-40.8,-3.5],[-38.5,-12.4],[-22,6.8],[-2.6,11.4],[17.5,5.2,1],[35.9,4.6,1],[33,-29.9],[45,-7.2],[-3,7],[3,8],[8,9],[12,6],[-10,3],[-5,4],[0,3],[5,4],[10,3],[15,4],[20,2],[-17,-2],[-12,-2],[-7,-1],[-2,-2],[3,-1],[8,-2],[13,-1],[18,-2],[23,-3],[-22,-7],[-17,-6],[-12,-7],[-7,-6],[-2,-7],[3,-6],[8,-7],[13,-6],[18,-7],[23,-6],[28,-8],[-25,-12],[-20,-11],[-15,-12],[-10,-11],[-5,-12],[0,-11],[5,-12],[10,-11],[15,-12],[20,-11],[25,-12],[29,-11],[-24,-17],[-19,-16],[-14,-17],[-9,-16],[-4,-17],[1,-16],[6,-17],[11,-16],[16,-17],[21,-16],[26,-17],[31,-17],[-20,-22],[-15,-21],[-10,-22],[-5,-21],[0,-22],[5,-21],[10,-22],[15,-21],[20,-22],[25,-21],[30,-23],[-16,-26],[-11,-27],[-6,-26],[-1,-27],[4,-26],[9,-27],[14,-26],[19,-27],[24,-26],[-9,-30],[-3,-31],[2,-31],[8,-31],[13,-30],[18,-31],[23,-30],[-30,-9],[-33,-11],[-35,-8],[-28,-17]];
const p3x1 = [[-96,-23.2],[-47,-6.9],[-31.5,-12],[17.5,-34.2,1],[37,-14.8],[-21,-8.9,1],[-28,-11],[-9,-4,1],[-1,-10],[3,-12],[7,-9],[12,-10],[5,-15],[9,-14],[14,-15],[-4,-14],[-10,-7],[0,-2],[9,-6,1],[-16,-19],[-8,-17],[-4,-20],[3,-19],[11,-19],[16,-20],[21,-23],[24,-16],[28,-7,1],[12,-26],[5,-29],[24,-22,1],[29,-25],[32,-24],[-21,-11],[-12,-14]];
const p3d2 = [[-16,-1],[-5,3],[11,0],[19,-5],[25,-7],[-20,-12],[-10,-14],[3,-8],[12,-12],[23,-12],[-14,-22],[-3,-18],[9,-23],[20,-20],[28,-18],[-7,-29],[4,-31],[14,-33],[25,-27],[31,-12],[2,8],[-4,-22],[17,-25]];
const p3e2 = [[-8,6],[1,6],[6,7],[-14,1],[-8,1],[-3,1],[2,0],[7,1],[12,1],[17,0],[22,-1],[-20,-4],[-14,-4],[-9,-3],[-4,-4],[1,-4],[6,-5],[11,-4],[16,-4],[21,-5],[26,-5],[-24,-9],[-18,-10],[-13,-9],[-8,-9],[-3,-9],[2,-10],[7,-10],[12,-9],[17,-9],[22,-10],[27,-10],[-28,-14],[-22,-14],[-17,-15],[-12,-14],[-7,-13],[-2,-14],[3,-14],[8,-15],[13,-14],[18,-14],[23,-15],[28,-14],[-22,-19],[-17,-20],[-12,-19],[-7,-18],[-2,-19],[3,-20],[8,-19],[13,-18],[18,-19],[23,-20],[28,-19],[-18,-24],[-13,-25],[-8,-24],[-3,-23],[2,-24],[7,-25],[12,-24],[17,-23],[22,-24],[27,-25],[-13,-29],[-8,-28],[-2,-29],[3,-28],[9,-29],[15,-29],[21,-28],[26,-28]];
const p3x2 = [[-4,-9],[2,-12],[7,-8],[12,-13],[0,-17],[5,-20],[10,-24],[15,-18],[-5,-18],[-10,-20],[-14,-12],[3,-4],[18,-25],[13,-27],[8,-27],[20,-19],[26,-13],[30,-20],[-8,-11]];

// PC7 / PC8
const p4b1 = [[14,60],[-13.3,54],[7.3,52.3],[-4,52.8],[-27,48.6],[-21.2,49.2],[-31.5,45.3],[-46,45],[-45.3,43.3,1],[-2.5,56,1],[-4.6,49],[-11,49.4],[-18,48,1],[-3,45.8,1],[35,48],[-8.5,45],[-20,41.6],[65,39],[37,40],[49.2,30.2],[45.5,31],[41,33],[-58,10],[-56,2.7],[-57,-30.5],[-48,-23,1],[62.7,6.8],[63,-11],[52.4,-12.7],[-42.5,-3.8],[-44,-5],[-41.8,13.7],[-41.3,19.6],[-36.5,33.6],[-36.7,36.9,1],[-32.3,36.3],[-34.3,24.6],[-31.5,24.4],[-36.7,11.8],[-32.3,2.3,1],[50.8,10,1],[36,14],[38.9,-21,1],[44,-26],[-11.7,-40],[38,-34],[-35,30],[-30,34],[-25,36],[-18,38],[-13,44],[-8,40],[-2,42],[5,41],[11,42],[17,35],[25,33],[31,28],[38,22],[40,14],[38,9],[42,-6],[43,-15],[40,-25],[-39,6],[-36,-2],[-35,-9],[-33,-20],[-30,-26],[-25,27],[-30,20],[-38,22],[3,-5]];
const p4b2 = [[-10.6,42.5],[5.7,47.5,1],[14,43.6],[21,39.7],[31.8,37.5,1],[59,14.3,1],[49.2,9.3],[54.7,2.3],[51.6,-17.2],[65,-25.5,1],[34.2,-43.4,1],[20.7,-40.6,1],[-12.5,-46,1],[7.3,-43.4],[-29,-36.3,1],[-31.8,31.3,1],[-38.6,28.2],[-37.8,-13.3,1],[-34.6,-17.7],[-19.6,-38.7],[31.8,30.8],[43,-1],[42.9,-15.5],[-30,11],[-28,-18],[30,14],[37,2],[16,-37],[27,-32,1]];
const p4b3 = [[-42.9,25],[39.4,37.5],[67.4,-26.4],[63.4,3],[-48.6,-27.2],[-46.5,-8.6],[49.5,-25.5],[-22.8,30],[-27.5,-18.3],[40.5,8]];
const p4b4 = [[-26,4],[22,-16]];
const p4b5 = [[32.6,47.3],[-42,-34.4,1],[-51.6,-9.1],[-37,0.4],[-39,28.5,1],[52.4,19],[61.9,10.7],[59.8,2],[54,-17.2],[54,-28],[47.3,21.3,1],[-38,-32.4],[36.5,-37.2],[23.9,-37.2],[-15.7,-40.6],[14,33,1],[47.3,-1],[45.3,-15],[35.8,-30],[-30,8],[-26,-12],[-28,22],[-20,14],[-14,28],[-3,8,1],[6,32],[20,24],[29,16],[25,-3],[32,-10],[34,3],[27,-25],[-22,-30],[-10,-20],[-31,-5],[10,-38],[-25,-37],[18,-31],[-17,2],[41,-34],[-20,-33,1]];
const p4b6 = [[55.5,46],[26,43,1],[12.3,46],[59.8,25.8,1],[63,22.4],[51,23],[50,34],[75.6,2],[68.5,-12.7],[56.3,-11,1],[57,-40.8],[61,-46.5],[-37.8,-38.5],[-43,-6.8],[-1.4,-44.3],[-21.2,-44.3],[15.5,-42.8],[20,-40],[-14.9,-36.7],[46,17.4,1],[44.5,18],[42.9,11.3],[45,-24.4,1],[5,40],[8,38],[3,35,1],[12,36],[-6,36],[-12,33],[-18,28],[-24,24],[-30,16],[-34,9],[-32,-2],[-35,-13],[-30,-20],[-27,-28],[-22,-34],[-14,-38],[-6,-40],[2,-39],[9,-41],[15,-37],[25,-34],[31,-30],[36,-25],[38,-18],[40,-9],[41,2],[38,12],[34,22],[30,28],[22,33],[16,30],[10,25,1],[3,28],[-5,20],[-12,14],[-20,6],[-25,-6],[-18,-16],[-10,-28],[2,-25],[12,-20],[22,-12],[30,-3],[27,8,1],[18,14],[8,10],[-2,22],[-27,17,1],[-15,-8],[32,-13,1],[-32,-13],[20,1,1],[-8,-14,1]];
const p4b7 = [[27,54.4],[-13,48.4],[0.6,44.1],[-26,37.8,1],[46.8,37.1],[41,32.2],[43.4,31.8],[-52.8,20.4],[-58.4,4],[-43.8,4],[-42.9,16.5,1],[-38.9,31.3],[76.9,-8.6],[52.4,4],[43.7,-26.6],[42,-30.9],[27.8,-36.9],[-35.4,-32.8],[42,25.7],[16,38],[46,5],[47.5,17,1],[7,39,1],[-3,36],[-10,30],[-17,33],[-23,22],[-28,13],[-33,4],[-36,-6],[-29,-14],[-34,-24],[-27,-32],[-17,-35],[-9,-33],[0,-37],[8,-33],[18,-36],[24,-39],[30,-32],[37,-31],[34,-22],[39,-5],[36,6],[33,17],[27,24],[20,29],[11,18],[2,13],[-7,6],[-15,12],[-22,-2],[-14,-20],[-4,-26],[7,-22],[17,-18],[26,-9],[31,5],[36,-14],[29,-20],[-30,-4,1],[-25,-22,1],[12,5],[-6,-10,1],[23,13],[8,28]];
const p4b8 = [[-49.4,16],[-52.5,9],[69.8,10.5],[57,-0.7],[57.4,-6.9],[54,-12.7],[63.5,-34.7,1],[-43.4,-28,1],[-45,-11.8],[-39,-9.4],[-35,19],[-0.3,49.7],[11.2,40.8],[46,-18.3,1],[42,-20.5,1],[-17.2,-43.6],[9.7,-42.8],[38.9,-17.7],[-36.2,-25.5],[32.6,-32.8],[-30,27],[-23,28],[-15,34],[-9,35],[-2,36],[4,33],[10,37],[18,33],[25,29],[29,31],[-34,20],[-28,21],[-20,18],[-13,19],[-6,21],[1,24],[8,21],[15,25],[21,20],[28,22],[33,24],[-32,11],[-26,7],[-19,10],[-12,10],[-5,13],[2,16],[9,12],[16,15],[23,8],[30,11],[36,9],[-33,-1],[-28,0],[-21,2],[-14,4],[-7,1],[0,6],[7,3],[14,-2],[21,-1],[28,3],[35,-4],[-36,-8],[-30,-10],[-23,-8],[-16,-6],[-9,-9],[-2,-3],[5,-8],[12,-11],[19,-6],[26,-5],[33,-8],[38,-11],[-33,-17],[-26,-18],[-19,-15],[-12,-15],[-5,-18],[2,-13],[9,-16],[16,-21],[23,-18],[30,-16],[36,-20],[-34,-28],[-28,-24],[-21,-25],[-14,-27],[-7,-24],[0,-22,1],[7,-27],[14,-26],[21,-24],[28,-28],[-24,-35],[-16,-33],[-9,-37],[-2,-31],[5,-35],[12,-37],[-25,-16,1],[25,-27,1],[-31,13,1],[17,-41],[14,-40]];
const p4b9 = [[85.6,-28],[68.2,-7.5,1],[12.5,-47.3],[-24.4,-46.2],[-39.9,-43],[-16.8,-43.6],[42.9,-39.2],[39.7,-38.9],[35.3,-39.8],[56.3,5.1],[59.5,-5.2],[-41,-15.5,1],[44.1,21],[38.9,25.2],[35,28],[24.7,38],[-14.9,41.4],[0.2,-44],[-17,37],[-10,38],[-3,39],[4,37],[11,36],[19,37],[-22,32],[-14,33],[-7,31],[0,32],[7,33],[14,31],[21,33],[27,30],[-26,26],[-18,28],[-12,25],[-5,27],[2,25],[9,28],[16,26],[23,27],[30,25],[-29,22],[-21,20],[-15,22],[-8,20],[-1,22],[6,21],[13,20],[20,22],[27,21],[34,20],[-25,15],[-17,16],[-10,15],[-3,17],[4,16],[11,15],[18,17],[25,14],[31,17],[-28,9],[-21,11],[-14,9],[-7,10],[0,11],[7,9],[14,11],[21,10],[28,8],[35,11],[-31,4],[-24,5],[-17,6],[-10,4],[-3,5],[4,5],[11,6],[18,4],[25,3],[32,5],[39,4],[-30,-2],[-23,-1],[-16,-2],[-9,-1],[-2,-2],[5,-1],[12,-2],[19,-3],[26,1],[33,-1],[-33,-7],[-26,-6],[-19,-8],[-12,-6],[-5,-7],[2,-6],[9,-7],[16,-6],[23,-8],[30,-6],[37,-8],[-29,-12],[-22,-13],[-15,-11],[-8,-12],[-1,-11],[6,-12],[13,-11],[20,-13],[27,-11],[34,-13],[-24,-18],[-17,-17],[-10,-18],[-3,-16],[4,-17],[11,-18],[18,-16],[25,-17],[32,-19],[-31,-22],[-24,-23],[-17,-22],[-10,-24],[-3,-22],[4,-21],[11,-23],[18,-22],[25,-23],[32,-24],[-27,-29],[-20,-28],[-13,-30],[-6,-28],[1,-27],[8,-28],[15,-29],[22,-29],[-20,-33],[-13,-35],[-6,-33],[-1,-38],[5,-32],[11,-33],[-6,-38],[-2,-41],[-30,-3,1],[-4,20,1],[16,-8,1],[27,-9,1]];
const p4x1 = [[46,-7.4],[45.3,-11.6],[43.7,2.3],[32.6,6.2],[35,28.2],[38,-33.9],[39,-31.7],[-10,25.8],[-9.3,3.5],[8,18.5],[-1.4,-2],[12.8,-18.8],[0.2,-19.4,1],[-11,-11.6],[-9,-5],[-5,-1],[-4,3,1],[2,-4],[7,-3],[-13,-6],[-8,-9],[-1,-7],[3,-15],[-7,-15],[-12,18],[-3,25,1],[9,-21],[-15,-13],[38,7],[14,-21],[5,-13]];
const p4o3 = [[-28,31],[-17,26],[-7,28],[7,24],[19,27],[28,18],[-29,12],[-18,8],[-9,12],[5,10],[16,6],[27,-7],[-30,-14],[-21,-6],[-8,-5],[8,-5],[18,-14],[33,-5],[-26,-20],[-12,-24],[3,-17],[14,-23],[27,-22],[-21,-33],[-8,-30],[6,-28],[18,-37],[-1,38],[14,38],[36,3]];
const p4c3 = [[-22,24],[-12,26],[0,26],[12,21],[24,19],[34,6],[-34,-5],[-25,6],[-13,-4],[1,4],[10,-11],[22,-7],[33,-15],[-26,-31],[-15,-31],[0,-24],[12,-30],[22,-33],[-19,-21],[-5,-5],[-5,31],[20,35],[30,-29],[-33,-21],[7,16]];
const p4d3 = [[-26,31],[-17,30],[-7,25],[1,30],[9,25],[16,28],[24,32],[-34,14],[-23,12],[-14,16],[-6,17],[6,14],[13,13],[24,16],[32,20],[-29,-2],[-16,1],[-9,3],[-1,-1],[9,1],[16,-5],[27,-2],[36,2],[-35,-14],[-28,-18],[-19,-12],[-8,-16],[-1,-15],[7,-10],[14,-17],[24,-9],[33,-12],[-30,-31],[-22,-28],[-13,-24],[-6,-26],[1,-33],[9,-25],[16,-26],[26,-26],[-12,-38],[5,-39],[-4,-37]];
const p4e3 = [[-24,21],[-14,24],[-2,28],[13,23],[21,25],[-23,8],[-15,7],[-6,6],[2,8],[9,5],[19,3],[27,6],[-23,-12],[-15,-9],[-7,-12],[1,-3],[12,-5],[20,-9],[28,-14],[-21,-20],[-14,-18],[-7,-18],[6,-16],[14,-14],[22,-20],[-19,-33],[-11,-31],[-3,-34],[7,-32],[15,-33]];
const p4s2 = [[-25,20],[-12,-3],[2,19],[18,12],[29,-12],[-28,-8],[-17,-24],[5,-30],[20,-35],[35,16],[-15,36],[9,31],[27,27],[-31,17],[-6,-20],[13,-8],[24,-18],[37,-3],[-26,-26],[0,0],[-20,25],[-9,33],[31,-26],[16,22],[-34,-16]];
const p4o2 = [[-20,31],[-11,29],[-3,32],[5,36],[13,33],[21,28],[29,20],[33,13],[-27,21],[-18,21],[-8,23],[1,18],[9,15],[18,19],[26,16],[-31,8],[-22,7],[-13,6],[-4,2],[4,0],[12,2],[21,6],[30,0],[37,-6],[-32,-9],[-24,-12],[-14,-14],[-6,-8],[3,-10],[11,-14],[20,-10],[28,-14],[35,-16],[-29,-25],[-19,-29],[-10,-32],[-2,-28],[8,-30],[17,-27],[26,-30],[33,-27],[-17,-38],[-4,-42],[11,-37],[21,-35],[-12,-6,1],[6,-16,1],[15,8,1],[24,-22,1],[-20,17,1],[0,29,1],[-15,-26,1]];
const p4c2 = [[-24,33],[-14,36],[-5,34],[9,34],[17,31],[25,23],[31,19],[-32,17],[-16,13],[-7,15],[3,20],[14,18],[22,15],[32,9],[-35,2],[-24,0],[-11,-1],[-2,5],[7,7],[16,1],[24,-2],[35,-3],[-31,-17],[-22,-18],[-11,-21],[1,-19],[11,-24],[19,-20],[27,-18],[34,-18],[-32,-27],[-21,-37],[-7,-36],[3,-33],[14,-32],[24,-27],[-2,-14,1],[10,-1,1],[-18,-11,1],[30,-24,1],[-11,22,1],[20,9,1],[6,-38,1],[-27,4],[37,15]];
const p4d2 = [[-29,29],[-20,36],[-12,30],[-4,29],[3,34],[12,29],[20,31],[28,27],[-31,22],[-24,17],[-16,19],[-9,17],[-2,14],[5,18],[12,16],[19,19],[26,19],[32,15],[38,16],[-36,3],[-27,2],[-18,4],[-11,7],[-4,8],[4,9],[11,8],[18,7],[25,6],[32,1],[38,-1],[-32,-5],[-24,-4],[-17,-3],[-10,-4],[-3,-6],[4,-4],[11,-4],[18,-8],[25,-12],[32,-3],[-34,-11],[-27,-14],[-20,-11],[-13,-12],[-6,-14],[1,-9],[8,-13],[15,-14],[22,-15],[29,-9],[35,-11],[-30,-20],[-23,-21],[-16,-19],[-9,-21],[-2,-19],[5,-23],[12,-20],[19,-25],[26,-21],[33,-22],[-25,-30],[-18,-30],[-11,-27],[-4,-29],[3,-30],[10,-31],[17,-31],[-15,-37],[-3,-35],[6,-26]];
const p4e2 = [[-18,33],[-8,34],[0,35],[7,29],[14,35],[22,30],[-27,24],[-19,25],[-11,21],[-4,24],[4,22],[11,24],[18,24],[25,25],[-26,12],[-18,12],[-11,13],[-4,14],[3,12],[10,11],[17,10],[24,11],[31,12],[-28,3],[-20,-1],[-13,1],[-7,7],[0,3],[7,1],[14,6],[22,0],[29,4],[36,-2],[-26,-9],[-19,-6],[-11,-8],[-4,-10],[3,-13],[10,-9],[17,-11],[24,-5],[31,-11],[-27,-17],[-19,-19],[-12,-21],[-5,-21],[2,-20],[9,-18],[16,-20],[23,-14],[30,-20],[-24,-27],[-17,-26],[-9,-28],[-2,-25],[5,-25],[12,-27],[19,-29],[27,-24],[-16,-40],[-9,-34],[-3,-31],[3,-36],[9,-35],[-5,-40],[-1,-44],[0,-34],[-4,-8],[-1,-5],[3,0],[7,-4],[-8,-3],[-2,-13],[2,-10],[13,0],[-12,-10],[5,4],[-6,-2],[-10,8],[-2,8],[-14,14]];
const p4x2 = [[-10,-4],[-6,-6],[-3,-2],[1,-9],[5,-5],[0,-14],[-5,-11],[8,-8],[-12,-1],[-9,-8],[2,3]];

// Draw layers in paint order: [chip index, points]
const B5 = 0, B6 = 1, B7 = 2, B8 = 3, B9 = 4, X1 = 5, A1 = 6, A2 = 7, A3 = 8, A4 = 9;
const PANEL1 = [[A1,p1b1],[A2,p1b2],[A3,p1b3],[A4,p1b4],[B5,p1b5],[B6,p1b6],[B6,p1o3],[B7,p1b7],[B7,p1c3],[B8,p1b8],[B8,p1d3],[B9,p1b9],[B9,p1e3],[X1,p1x1],[B8,p1d2],[B9,p1e2],[X1,p1x2]];
const PANEL2 = [[A1,p2b1],[A2,p2b2],[A3,p2b3],[A4,p2b4],[B5,p2b5],[B6,p2b6],[B7,p2b7],[B8,p2b8],[B9,p2b9],[X1,p2x1],[B6,p2o3],[B7,p2c3],[B8,p2d3],[B9,p2e3],[B5,p2s2],[B6,p2o2],[B7,p2c2],[B8,p2d2],[B9,p2e2],[X1,p2x2]];
const PANEL3 = [[A1,p3b1],[A1,p3a1],[A2,p3b2],[A3,p3b3],[A4,p3b4],[B5,p3b5],[B6,p3b6],[B7,p3b7],[B8,p3b8],[B9,p3b9],[X1,p3x1],[B8,p3d2],[B9,p3e2],[X1,p3x2]];
const PANEL4 = [[A1,p4b1],[A2,p4b2],[A3,p4b3],[A4,p4b4],[B5,p4b5],[B6,p4b6],[B7,p4b7],[B8,p4b8],[B9,p4b9],[X1,p4x1],[B6,p4o3],[B7,p4c3],[B8,p4d3],[B9,p4e3],[B5,p4s2],[B6,p4o2],[B7,p4c2],[B8,p4d2],[B9,p4e2],[X1,p4x2]];

// Axis ticks
const pc1Ticks = [-0.025, 0, 0.025, 0.05];
const pc1Minor = [-0.0125, 0.0125, 0.0375, 0.0625];
const pc2Ticks = [-0.06, -0.03, 0, 0.03, 0.06];
const pc2Minor = [-0.045, -0.015, 0.015, 0.045];
const pc3Ticks = [-0.05, -0.025, 0, 0.025, 0.05];
const pc3Minor = [-0.0375, -0.0125, 0.0125, 0.0375];
const pc4Ticks = [-0.05, -0.025, 0, 0.025, 0.05];
const pc4Minor = [-0.0375, -0.0125, 0.0125, 0.0375];
const pc5Ticks = [-0.1, -0.05, 0, 0.05];
const pc5Minor = [-0.075, -0.025, 0.025];
const pc6Ticks = [-0.025, 0, 0.025, 0.05];
const pc6Minor = [-0.0375, -0.0125, 0.0125, 0.0375, 0.0625];
const pc7Ticks = [-0.05, 0, 0.05];
const pc7Minor = [-0.025, 0.025, 0.075];
const pc8Ticks = [-0.03, 0, 0.03, 0.06];
const pc8Minor = [-0.045, -0.015, 0.015, 0.045];

const PANELS = [
  { layers: PANEL1, box: [108, 8.3, 441.7, 362], xName: "PC1", yName: "PC2", xr: [-0.02634, 0.06847], yr: [-0.0635, 0.0701], xt: pc1Ticks, yt: pc2Ticks, xm: pc1Minor, ym: pc2Minor, xd: 3, yd: 2, xGap: 36, yGap: 70 },
  { layers: PANEL2, box: [574, 8.3, 895.7, 362], xName: "PC3", yName: "PC4", xr: [-0.0528, 0.0566], yr: [-0.0574, 0.05167], xt: pc3Ticks, yt: pc4Ticks, xm: pc3Minor, ym: pc4Minor, xd: 3, yd: 3, xGap: 36, yGap: 83 },
  { layers: PANEL3, box: [120, 454.3, 441.7, 807.7], xName: "PC5", yName: "PC6", xr: [-0.1079, 0.06125], yr: [-0.04854, 0.06587], xt: pc5Ticks, yt: pc6Ticks, xm: pc5Minor, ym: pc6Minor, xd: 2, yd: 3, xGap: 35, yGap: 82 },
  { layers: PANEL4, box: [561.7, 454.3, 895.7, 807.7], xName: "PC7", yName: "PC8", xr: [-0.06547, 0.09305], yr: [-0.05264, 0.06559], xt: pc7Ticks, yt: pc8Ticks, xm: pc7Minor, ym: pc8Minor, xd: 2, yd: 2, xGap: 35, yGap: 71 },
];

function axis(kind: "x" | "y", name: string, range: number[], ticks: number[], digits: number, gap: number, i: number) {
  return {
    type: "value",
    gridIndex: i,
    position: kind === "x" ? "bottom" : "left",
    name,
    nameLocation: "middle",
    nameGap: gap,
    nameTextStyle: { fontFamily: FONT, fontSize: 27, color: "#000" },
    min: range[0],
    max: range[1],
    axisLine: { show: false, onZero: false },
    splitLine: { show: false },
    minorSplitLine: { show: false },
    axisTick: { show: true, length: 5, customValues: ticks, lineStyle: { color: "#333", width: 1.4 } },
    axisLabel: {
      show: true,
      customValues: ticks,
      margin: kind === "x" ? 11 : 14,
      fontFamily: FONT,
      fontSize: 21,
      color: "#4D4D4D",
      formatter: (v: number) => v.toFixed(digits),
    },
  };
}

function gridLines(i: number, dim: "xAxis" | "yAxis", values: number[], width: number) {
  return {
    type: "scatter",
    xAxisIndex: i,
    yAxisIndex: i,
    data: [],
    silent: true,
    markLine: {
      silent: true,
      z: 1,
      animation: false,
      symbol: ["none", "none"],
      label: { show: false },
      emphasis: { disabled: true },
      lineStyle: { type: "solid", color: "#FFFFFF", width, opacity: 1 },
      data: values.map((v) => ({ [dim]: v })),
    },
  };
}

function buildOption() {
  const series: any[] = [];
  PANELS.forEach((p, i) => {
    series.push(gridLines(i, "xAxis", p.xm, 1));
    series.push(gridLines(i, "yAxis", p.ym, 1));
    series.push(gridLines(i, "xAxis", p.xt, 2));
    series.push(gridLines(i, "yAxis", p.yt, 2));
    (p.layers as any[]).forEach(([c, pts]) => {
      series.push({
        type: "scatter",
        name: CHIPS[c],
        xAxisIndex: i,
        yAxisIndex: i,
        silent: true,
        itemStyle: { color: COLORS[c], opacity: 1 },
        emphasis: { disabled: true },
        symbol: (v: number[]) => (v[2] ? "triangle" : "circle"),
        symbolSize: (v: number[]) => (v[2] ? [13, 11] : 11.3),
        data: pts.map((d: number[]) => [d[0] / 1000, d[1] / 1000, d[2] || 0]),
      });
    });
  });
  STATUS.forEach((s) =>
    series.push({ type: "scatter", name: s, data: [], xAxisIndex: 0, yAxisIndex: 0, itemStyle: { color: "#000" } })
  );

  const legendBase = {
    orient: "vertical",
    left: 938,
    padding: 0,
    selectedMode: false,
    itemWidth: 12,
    itemHeight: 12,
    itemGap: 18.9,
    textStyle: { fontFamily: FONT, fontSize: 21.5, color: "#000", lineHeight: 24, padding: [0, 0, 0, 24] },
  };

  return {
    animation: false,
    grid: PANELS.map((p) => ({
      left: p.box[0],
      top: p.box[1],
      width: p.box[2] - p.box[0],
      height: p.box[3] - p.box[1],
      show: true,
      backgroundColor: "#EBEBEB",
      borderWidth: 0,
      containLabel: false,
    })),
    xAxis: PANELS.map((p, i) => axis("x", p.xName, p.xr, p.xt, p.xd, p.xGap, i)),
    yAxis: PANELS.map((p, i) => axis("y", p.yName, p.yr, p.yt, p.yd, p.yGap, i)),
    legend: [
      { ...legendBase, top: 166, icon: "circle", data: CHIPS },
      { ...legendBase, top: 689, data: [{ name: STATUS[0], icon: "circle" }, { name: STATUS[1], icon: "triangle" }] },
    ],
    graphic: [
      { type: "rect", left: 922.7, top: 157, shape: { width: 42.7, height: 429 }, style: { fill: "#F2F2F2" }, z: -1 },
      { type: "rect", left: 922.7, top: 680, shape: { width: 42.7, height: 86 }, style: { fill: "#F2F2F2" }, z: -1 },
      { type: "text", left: 922, top: 117, style: { text: "genomic_chip", fontFamily: FONT, fontSize: 27.2, fill: "#000" } },
      { type: "text", left: 922, top: 639, style: { text: "as.factor(Affection.Status)", fontFamily: FONT, fontSize: 27.2, fill: "#000" } },
    ],
    series,
  };
}

export default function App() {
  const ref = useRef<HTMLDivElement>(null);
  useEffect(() => {
    document.body.style.margin = "0";
    document.body.style.background = "#fff";
    const chart = echarts.init(ref.current!, undefined, { renderer: "svg" });
    chart.setOption(buildOption() as any);
    return () => chart.dispose();
  }, []);
  return <div ref={ref} style={{ width: 1244, height: 874 }} />;
}
